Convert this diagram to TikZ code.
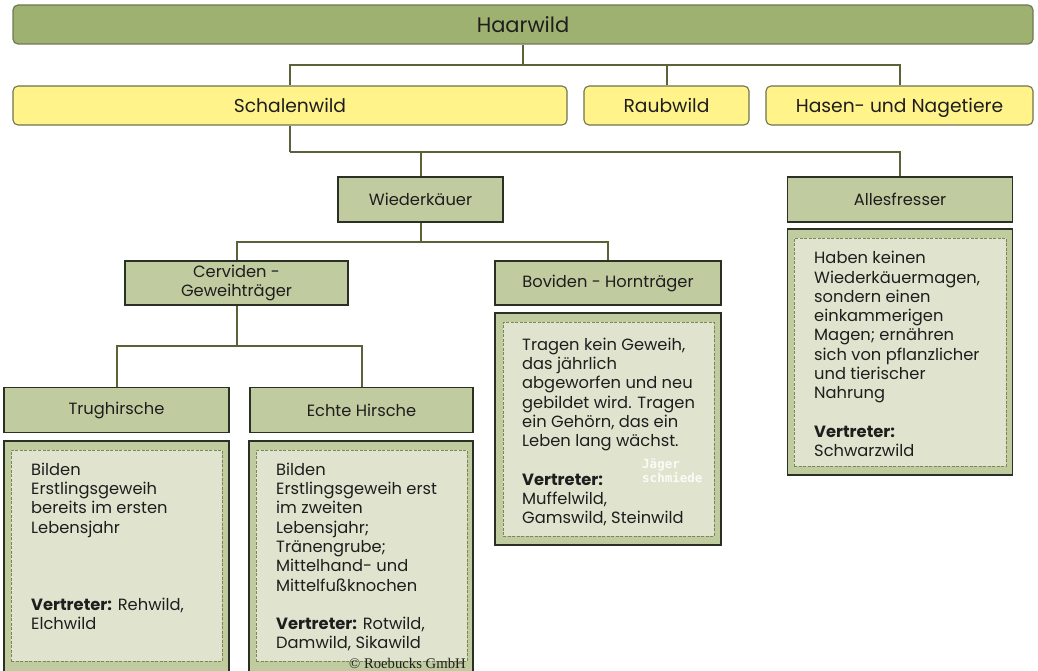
\documentclass[tikz,border=0pt]{standalone}
\usepackage{fontspec}
\setmainfont{Poppins}
\newfontfamily\copyfont{Liberation Serif}
\newfontfamily\wmfont{DejaVu Sans Mono}
\definecolor{haarfill}{HTML}{9FB170}
\definecolor{haardraw}{HTML}{6E7A52}
\definecolor{yelfill}{HTML}{FFF38A}
\definecolor{yeldraw}{HTML}{6F7450}
\definecolor{hdrfill}{HTML}{C1CBA0}
\definecolor{hdrdraw}{HTML}{2B3024}
\definecolor{innfill}{HTML}{E0E4CE}
\definecolor{inndraw}{HTML}{7B8656}
\definecolor{conncol}{HTML}{5A6238}
\definecolor{txtcol}{HTML}{1E1E1E}
\begin{document}
\begin{tikzpicture}[x=1pt,y=-1pt,
  topbox/.style={draw=haardraw,fill=haarfill,line width=1.2pt,rounded corners=5pt,inner sep=0pt,text=txtcol,font=\fontsize{21}{24}\selectfont,text height=16pt,text depth=0pt},
  yelbox/.style={draw=yeldraw,fill=yelfill,line width=1.1pt,rounded corners=5pt,inner sep=0pt,minimum height=39pt,text=txtcol,font=\fontsize{18.7}{22}\selectfont,text height=15pt,text depth=1.5pt},
  hdrbox/.style={draw=hdrdraw,fill=hdrfill,line width=1.4pt,inner sep=0pt,align=center,text=txtcol,font=\fontsize{16.3}{19.3}\selectfont},
  outbox/.style={draw=hdrdraw,fill=hdrfill,line width=1.4pt,inner sep=0pt},
  innbox/.style={draw=inndraw,fill=innfill,line width=0.9pt,dash pattern=on 3pt off 1.5pt,inner sep=0pt},
  bodytxt/.style={anchor=north west,inner sep=0pt,align=left,text=txtcol,font=\fontsize{16.3}{19.3}\selectfont},
  conn/.style={draw=conncol,line width=2pt}
]
\useasboundingbox (0,0) rectangle (1038,671);
\fill[white] (0,0) rectangle (1038,671);

% level 0
\node[topbox,minimum width=1020pt,minimum height=39pt] (haar) at (523,24.5) {Haarwild};
% level 1
\node[yelbox,minimum width=554pt] (schal) at (290,105.5) {Schalenwild};
\node[yelbox,minimum width=165pt] (raub) at (666.5,105.5) {Raubwild};
\node[yelbox,minimum width=267pt] (hasen) at (899.5,105.5) {Hasen- und Nagetiere};
% level 2
\node[hdrbox,minimum width=165pt,minimum height=45pt] (wied) at (420.5,199.5) {Wiederkäuer};
\node[hdrbox,minimum width=225pt,minimum height=45pt] (alles) at (900,199.5) {Allesfresser};
% level 3
\node[hdrbox,minimum width=223pt,minimum height=44pt] (cerv) at (236.5,283) {Cerviden -\\Geweihträger};
\node[hdrbox,minimum width=226pt,minimum height=44pt] (bov) at (608,283) {Boviden - Hornträger};
% level 4
\node[hdrbox,minimum width=225pt,minimum height=45pt] (trug) at (116.5,410) {Trughirsche};
\node[hdrbox,minimum width=223pt,minimum height=45pt] (echt) at (361.5,410) {Echte Hirsche};

% detail boxes
\node[outbox,minimum width=225pt,minimum height=246pt] (allesD) at (900,352) {};
\node[innbox,minimum width=212pt,minimum height=228pt] (allesI) at (900,352) {};
\node[outbox,minimum width=226pt,minimum height=232pt] (bovD) at (608,429) {};
\node[innbox,minimum width=211pt,minimum height=214pt] (bovI) at (608.5,429) {};
\node[outbox,minimum width=225pt,minimum height=259pt] (trugD) at (116.5,570.5) {};
\node[innbox,minimum width=211pt,minimum height=211pt] (trugI) at (116.5,555.5) {};
\node[outbox,minimum width=224pt,minimum height=259pt] (echtD) at (361,570.5) {};
\node[innbox,minimum width=211pt,minimum height=211pt] (echtI) at (361.5,555.5) {};

% texts
\node[bodytxt] (trugT) at (31,462) {\rule{0pt}{13pt}Bilden\\Erstlingsgeweih\\bereits im ersten\\Lebensjahr\\[57.9pt]\textbf{Vertreter:} Rehwild,\\Elchwild};
\node[bodytxt] (echtT) at (276,462) {\rule{0pt}{13pt}Bilden\\Erstlingsgeweih erst\\im zweiten\\Lebensjahr;\\Tränengrube;\\Mittelhand- und\\Mittelfußknochen\\[19.3pt]\textbf{Vertreter:} Rotwild,\\Damwild, Sikawild};
\node[bodytxt] (bovT) at (522,337) {\rule{0pt}{13pt}Tragen kein Geweih,\\das jährlich\\abgeworfen und neu\\gebildet wird. Tragen\\ein Gehörn, das ein\\Leben lang wächst.\\[19.3pt]\textbf{Vertreter:}\\Muffelwild,\\Gamswild, Steinwild};
\node[bodytxt] (allesT) at (814,250.5) {\rule{0pt}{13pt}Haben keinen\\Wiederkäuermagen,\\sondern einen\\einkammerigen\\Magen; ernähren\\sich von pflanzlicher\\und tierischer\\Nahrung\\[19.3pt]\textbf{Vertreter:}\\Schwarzwild};

% watermark and copyright
\node[anchor=north west,inner sep=0pt,align=left,text=white,text opacity=0.85,font=\wmfont\bfseries\fontsize{12.5}{12}\selectfont] (wm) at (642,459) {Jäger\\schmiede};
\node[anchor=base west,inner sep=0pt,text=txtcol,font=\copyfont\fontsize{14.7}{16}\selectfont] (copy) at (349,668.5) {© Roebucks GmbH};

% connectors
\coordinate (j1) at (523,65);
\coordinate (j2) at (290,152);
\coordinate (j3) at (420.5,241.5);
\coordinate (j4) at (236.5,346);
\draw[conn] (haar.south) -- (j1);
\draw[conn] (j1) -| (schal.north);
\draw[conn] (j1) -| (raub.north);
\draw[conn] (j1) -| (hasen.north);
\draw[conn] (schal.south) -- (j2);
\draw[conn] (j2) -| (wied.north);
\draw[conn] (j2) -| (alles.north);
\draw[conn] (wied.south) -- (j3);
\draw[conn] (j3) -| (cerv.north);
\draw[conn] (j3) -| (bov.north);
\draw[conn] (cerv.south) -- (j4);
\draw[conn] (j4) -| (trug.north);
\draw[conn] (j4) -| (echt.north);
\end{tikzpicture}
\end{document}
